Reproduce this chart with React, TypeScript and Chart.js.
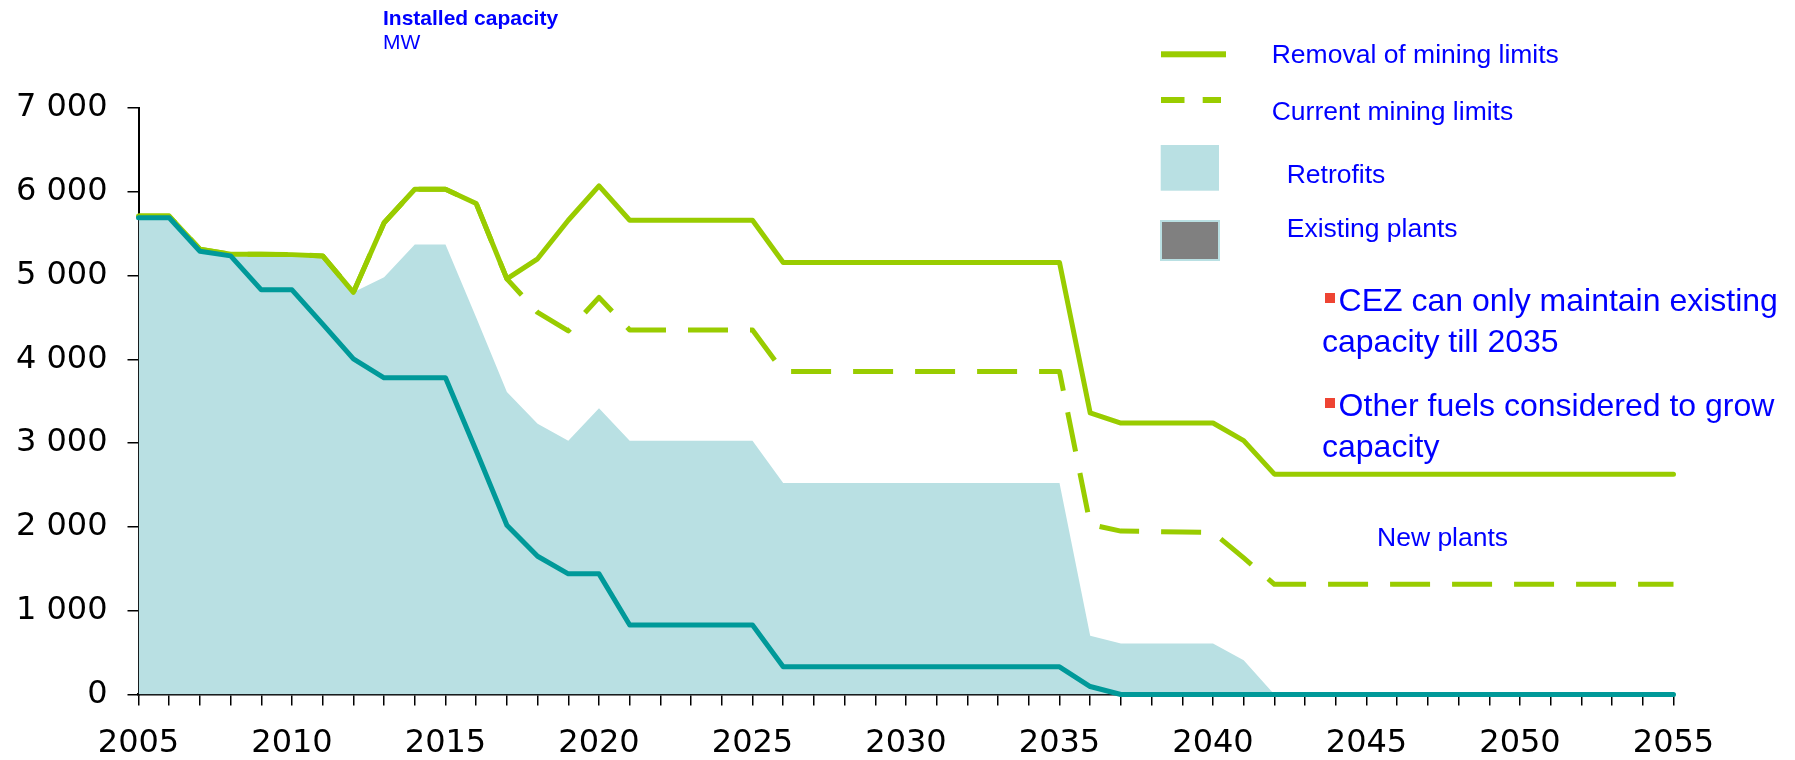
import { useEffect, useRef } from "react";
import { Chart, registerables } from "chart.js";

Chart.register(...registerables);

// ---------- data ----------
const years = [
  2005, 2006, 2007, 2008, 2009, 2010, 2011, 2012, 2013, 2014,
  2015, 2016, 2017, 2018, 2019, 2020, 2021, 2022, 2023, 2024,
  2025, 2026, 2027, 2028, 2029, 2030, 2031, 2032, 2033, 2034,
  2035, 2036, 2037, 2038, 2039, 2040, 2041, 2042, 2043, 2044,
  2045, 2046, 2047, 2048, 2049, 2050, 2051, 2052, 2053, 2054,
  2055,
];

const removalOfMiningLimits = [
  5710, 5710, 5315, 5255, 5255, 5250, 5235, 4800, 5630, 6030,
  6030, 5860, 4960, 5200, 5660, 6070, 5660, 5660, 5660, 5660,
  5660, 5155, 5155, 5155, 5155, 5155, 5155, 5155, 5155, 5155,
  5155, 3360, 3240, 3240, 3240, 3240, 3030, 2630, 2630, 2630,
  2630, 2630, 2630, 2630, 2630, 2630, 2630, 2630, 2630, 2630,
  2630,
];

const currentMiningLimits = [
  5710, 5710, 5315, 5255, 5255, 5250, 5235, 4800, 5630, 6030,
  6030, 5860, 4960, 4560, 4340, 4740, 4350, 4350, 4350, 4350,
  4350, 3855, 3855, 3855, 3855, 3855, 3855, 3855, 3855, 3855,
  3855, 2030, 1950, 1945, 1940, 1935, 1630, 1315, 1315, 1315,
  1315, 1315, 1315, 1315, 1315, 1315, 1315, 1315, 1315, 1315,
  1315,
];

const retrofits = [
  5700, 5700, 5300, 5245, 5245, 5240, 5225, 4800, 4980, 5370,
  5370, 4500, 3610, 3230, 3030, 3415, 3030, 3030, 3030, 3030,
  3030, 2525, 2525, 2525, 2525, 2525, 2525, 2525, 2525, 2525,
  2525, 700, 610, 610, 610, 610, 410, 0, 0, 0,
  0, 0, 0, 0, 0, 0, 0, 0, 0, 0,
  0,
];

const existingPlants = [
  5690, 5690, 5290, 5235, 4830, 4830, 4420, 4005, 3780, 3780,
  3780, 2910, 2020, 1650, 1440, 1440, 830, 830, 830, 830,
  830, 330, 330, 330, 330, 330, 330, 330, 330, 330,
  330, 95, 0, 0, 0, 0, 0, 0, 0, 0,
  0, 0, 0, 0, 0, 0, 0, 0, 0, 0,
  0,
];

const labeledYears = [2005, 2010, 2015, 2020, 2025, 2030, 2035, 2040, 2045, 2050, 2055];
const yTickValues = [0, 1000, 2000, 3000, 4000, 5000, 6000, 7000];
const yTickLabels = ["0", "1 000", "2 000", "3 000", "4 000", "5 000", "6 000", "7 000"];

const titleText = "Installed capacity";
const unitText = "MW";
const legendLabels = ["Removal of mining limits", "Current mining limits", "Retrofits", "Existing plants"];
const bulletLines = [
  ["CEZ can only maintain existing", "capacity till 2035"],
  ["Other fuels considered to grow", "capacity"],
];
const newPlantsText = "New plants";

// ---------- styles ----------
const GREEN = "#99cc00";
const TEAL = "#009999";
const AREA = "#b9e0e3";
const BLUE = "#0000ff";
const RED = "#ee4433";
const GRAY = "#808080";
const SANS = '"Liberation Sans", Arial, sans-serif';

const annotationPlugin = {
  id: "annotations",
  afterDraw(chart: any) {
    const ctx = chart.ctx as CanvasRenderingContext2D;
    ctx.save();
    ctx.textBaseline = "alphabetic";
    ctx.textAlign = "left";

    // title
    ctx.fillStyle = BLUE;
    ctx.font = `bold 21px ${SANS}`;
    ctx.fillText(titleText, 383, 25);
    ctx.font = `21px ${SANS}`;
    ctx.fillText(unitText, 383, 49);

    // legend symbols
    ctx.fillStyle = GREEN;
    ctx.fillRect(1161, 51.3, 65, 6);
    ctx.fillRect(1161, 97, 23.5, 6);
    ctx.fillRect(1202.7, 97, 18.3, 6);
    ctx.fillStyle = AREA;
    ctx.fillRect(1160.7, 145, 58.3, 45.7);
    ctx.fillRect(1160, 220, 60, 41);
    ctx.fillStyle = GRAY;
    ctx.fillRect(1162, 222, 56, 37);

    // legend text
    ctx.fillStyle = BLUE;
    ctx.font = `26.5px ${SANS}`;
    ctx.fillText(legendLabels[0], 1271.7, 63.3);
    ctx.fillText(legendLabels[1], 1271.7, 120);
    ctx.fillText(legendLabels[2], 1286.7, 183.3);
    ctx.fillText(legendLabels[3], 1286.7, 236.7);

    // bullets
    const bulletTops = [293, 398];
    const firstBaselines = [311, 416];
    const secondBaselines = [352, 457];
    ctx.font = `32px ${SANS}`;
    bulletLines.forEach((lines, i) => {
      ctx.fillStyle = RED;
      ctx.fillRect(1325, bulletTops[i], 10, 10);
      ctx.fillStyle = BLUE;
      ctx.fillText(lines[0], 1338.6, firstBaselines[i]);
      ctx.fillText(lines[1], 1322, secondBaselines[i]);
    });

    // new plants
    ctx.font = `26.5px ${SANS}`;
    ctx.fillText(newPlantsText, 1377, 546);

    ctx.restore();
  },
};

export default function App() {
  const canvasRef = useRef<HTMLCanvasElement | null>(null);

  useEffect(() => {
    const canvas = canvasRef.current;
    if (!canvas) return;
    const chart = new Chart(canvas, {
      type: "line",
      data: {
        labels: years.map(String),
        datasets: [
          {
            label: legendLabels[3],
            data: existingPlants,
            borderColor: TEAL,
            borderWidth: 5,
            borderCapStyle: "round",
            borderJoinStyle: "round",
            pointRadius: 0,
            fill: false,
            tension: 0,
            clip: 12,
          },
          {
            label: legendLabels[0],
            data: removalOfMiningLimits,
            borderColor: GREEN,
            borderWidth: 5,
            borderCapStyle: "round",
            borderJoinStyle: "round",
            pointRadius: 0,
            fill: false,
            tension: 0,
            clip: 12,
          },
          {
            label: legendLabels[1],
            data: currentMiningLimits,
            borderColor: GREEN,
            borderWidth: 5,
            borderDash: [40, 22],
            borderCapStyle: "butt",
            borderJoinStyle: "round",
            pointRadius: 0,
            fill: false,
            tension: 0,
            clip: 12,
          },
          {
            label: legendLabels[2],
            data: retrofits,
            borderWidth: 0,
            borderColor: AREA,
            backgroundColor: AREA,
            pointRadius: 0,
            fill: "origin",
            tension: 0,
          },
        ],
      },
      options: {
        responsive: false,
        animation: false,
        devicePixelRatio: 1,
        layout: { padding: { left: 0, right: 121.5, top: 108, bottom: 0 } },
        plugins: {
          legend: { display: false },
          tooltip: { enabled: false },
          title: { display: false },
        },
        scales: {
          x: {
            type: "category",
            offset: false,
            grid: {
              display: true,
              drawOnChartArea: false,
              drawTicks: true,
              tickLength: 11,
              color: "#000000",
              lineWidth: 1.5,
            },
            border: { display: true, color: "#000000", width: 2.5 },
            ticks: {
              autoSkip: false,
              maxRotation: 0,
              minRotation: 0,
              padding: 19,
              color: "#000000",
              font: { family: '"DejaVu Sans", sans-serif', size: 32 },
              callback: (_v: any, idx: number) =>
                labeledYears.includes(years[idx]) ? String(years[idx]) : "",
            },
            afterFit: (scale: any) => {
              scale.height = 65.5;
            },
          },
          y: {
            min: yTickValues[0],
            max: yTickValues[yTickValues.length - 1],
            grid: {
              display: true,
              drawOnChartArea: false,
              drawTicks: true,
              tickLength: 11,
              color: "#000000",
              lineWidth: 1.5,
            },
            border: { display: true, color: "#000000", width: 2 },
            ticks: {
              stepSize: 1000,
              padding: 20,
              color: "#000000",
              font: { family: '"DejaVu Sans", sans-serif', size: 32 },
              callback: (v: any) => {
                const i = yTickValues.indexOf(Number(v));
                return i >= 0 ? yTickLabels[i] : "";
              },
            },
            afterFit: (scale: any) => {
              scale.width = 138.5;
            },
          },
        },
      },
      plugins: [annotationPlugin],
    } as any);
    return () => chart.destroy();
  }, []);

  return (
    <div style={{ position: "absolute", left: 0, top: 0, width: 1795, height: 760, background: "#ffffff" }}>
      <canvas ref={canvasRef} width={1795} height={760} style={{ width: 1795, height: 760, display: "block" }} />
    </div>
  );
}
